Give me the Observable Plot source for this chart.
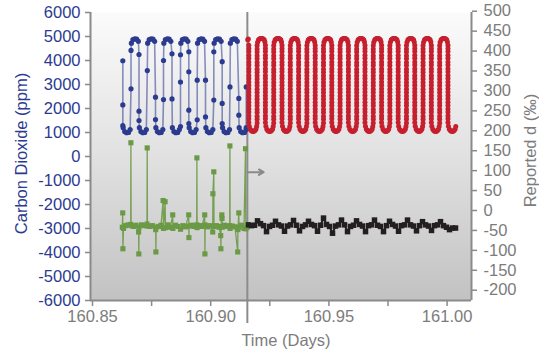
<!DOCTYPE html>
<html><head><meta charset="utf-8">
<script src="https://cdn.jsdelivr.net/npm/d3@7"></script>
<script src="https://cdn.jsdelivr.net/npm/@observablehq/plot@0.6"></script>
<style>html,body{margin:0;padding:0;background:#fff;} svg{display:block;}</style>
</head><body><div id="chart"></div>
<script>
// ---- axis ticks ----
const xTicks = [160.85, 160.90, 160.95, 161.00];
const xMinorTicks = [160.875, 160.925, 160.975];
const co2Ticks = [-6000, -5000, -4000, -3000, -2000, -1000, 0, 1000, 2000, 3000, 4000, 5000, 6000];
const deltaTicks = [-200, -150, -100, -50, 0, 50, 100, 150, 200, 250, 300, 350, 400, 450, 500];
const xDomain = [160.84915, 161.01032];
const co2Domain = [-6000, 6000];
const switchDay = 160.9155;

// ---- CO2, first period (blue): time of each vertical step and the points read on it ----
const blueEdgeDays = [160.86282, 160.86629, 160.86967, 160.87318, 160.87665, 160.88003, 160.88363, 160.88722,
  160.89074, 160.89429, 160.89780, 160.90131, 160.90486, 160.90816, 160.91189, 160.91502];
const blueRampPpm = [[3990, 2150, 1290], [2820, 4420], [4250, 1890, 1500], [3580], [2470, 1540], [2370, 4000],
  [4280, 2400], [1250, 3100, 4240], [4360, 3530, 1930, 1370], [1530, 3180], [3180, 1650], [2350, 4360],
  [3950, 2210, 1375], [2900], [2420, 1720], [1200, 2900]];
const blueTopArcPpm = [4720, 4870, 4900, 4890, 4800];
const blueBottomArcPpm = [1200, 1040, 990, 1000, 1120];
const blueArcOffsetDays = [0.00015, 0.0008, 0.0016, 0.0024, 0.0031];

// ---- CO2, second period (red) ----
const redLeadDays = [160.91566, 160.91590];
const redLeadPpm = [4860, 4900];
const redEdgeDays = [160.91612, 160.91963, 160.92314, 160.92665, 160.93016, 160.93367, 160.93718, 160.94069,
  160.94420, 160.94771, 160.95122, 160.95473, 160.95824, 160.96175, 160.96526, 160.96877, 160.97228, 160.97579,
  160.97930, 160.98281, 160.98632, 160.98983, 160.99334, 160.99685, 161.00036];
const redDownPpm = [4640, 4500, 4370, 4220, 4090, 3940, 3810, 3660, 3530, 3380, 3250, 3100, 2970, 2820, 2690,
  2540, 2410, 2260, 2130, 1980, 1850, 1700, 1570, 1420];
const redUpPpm = [1400, 1550, 1680, 1830, 1960, 2110, 2240, 2390, 2520, 2670, 2800, 2950, 3080, 3230, 3360,
  3510, 3640, 3790, 3920, 4070, 4200, 4350, 4480, 4630];
const redTopArcPpm = [4760, 4860, 4900, 4920, 4920, 4920, 4900, 4860, 4770];
const redBottomArcPpm = [1260, 1140, 1080, 1050, 1040, 1050, 1080, 1140, 1250];
const redArcOffsetDays = [0.0002, 0.0006, 0.0010, 0.0014, 0.0018, 0.0022, 0.0026, 0.0030, 0.0033];

// ---- reported delta, first period (green) ----
const greenDays = [160.86261, 160.86278, 160.86286, 160.86311, 160.86396, 160.86502, 160.86616, 160.86624,
  160.86633, 160.86734, 160.86840, 160.86950, 160.86959, 160.86967, 160.87073, 160.87179, 160.87305, 160.87314,
  160.87322, 160.87432, 160.87538, 160.87673, 160.87682, 160.87690, 160.87792, 160.87898, 160.87986, 160.88003,
  160.88071, 160.88088, 160.88194, 160.88299, 160.88393, 160.88401, 160.88511, 160.88617, 160.88723, 160.88828,
  160.88934, 160.89069, 160.89078, 160.89086, 160.89188, 160.89294, 160.89408, 160.89416, 160.89425, 160.89526,
  160.89632, 160.89746, 160.89755, 160.89763, 160.89865, 160.89970, 160.90085, 160.90093, 160.90131, 160.90140,
  160.90245, 160.90351, 160.90423, 160.90431, 160.90440, 160.90470, 160.90478, 160.90491, 160.90584, 160.90690,
  160.90804, 160.90812, 160.90821, 160.90922, 160.91028, 160.91142, 160.91151, 160.91189, 160.91197, 160.91303,
  160.91409, 160.91472, 160.91485, 160.91536];
const greenDelta = [-42, -6, -96, -45, -38, -36, -35, 170, -38, -40, -37, -54, -109, -42, -36, -38, -34, 157,
  -39, -40, -38, -48, -104, -42, -40, -37, 25, -45, 22, -43, -36, -42, -11, -45, -37, -40, -47, -38, -41, -11,
  -68, -39, -37, -40, -36, 132, -43, -38, -40, -11, -109, -36, -41, -38, -54, 42, 97, -40, -38, -42, -63, -96,
  -40, -11, -20, -42, -37, -40, -38, 162, -45, -39, -41, -104, -48, -6, -42, -37, -45, 155, -46, -42];

// ---- reported delta, second period (black) ----
const blackDays = [160.91599, 160.91726, 160.91853, 160.91980, 160.92107, 160.92234, 160.92361, 160.92488,
  160.92615, 160.92741, 160.92868, 160.92995, 160.93122, 160.93249, 160.93376, 160.93503, 160.93630, 160.93757,
  160.93884, 160.94011, 160.94137, 160.94264, 160.94391, 160.94518, 160.94645, 160.94772, 160.94899, 160.95026,
  160.95153, 160.95280, 160.95407, 160.95533, 160.95660, 160.95787, 160.95914, 160.96041, 160.96168, 160.96295,
  160.96422, 160.96549, 160.96676, 160.96803, 160.96929, 160.97056, 160.97183, 160.97310, 160.97437, 160.97564,
  160.97691, 160.97818, 160.97945, 160.98072, 160.98199, 160.98325, 160.98452, 160.98579, 160.98706, 160.98833,
  160.98960, 160.99087, 160.99214, 160.99341, 160.99468, 160.99595, 160.99721, 160.99848, 160.99975, 161.00102,
  161.00229, 161.00356];
const blackDelta = [-36, -38, -37, -26, -33, -38, -53, -40, -37, -27, -36, -39, -52, -39, -36, -25, -37, -51,
  -40, -36, -27, -35, -38, -52, -37, -19, -35, -40, -57, -39, -36, -24, -36, -53, -40, -37, -26, -35, -39, -53,
  -38, -36, -24, -37, -40, -53, -38, -27, -35, -39, -52, -38, -36, -24, -36, -39, -51, -38, -28, -36, -39, -50,
  -38, -36, -28, -38, -42, -48, -44, -44];

// right axis (per mil) expressed on the left (ppm) scale
const toPpm = d => -2250 + 16.608 * d;
const fromPpm = p => Math.round((p + 2250) / 16.608);

// ---- assemble tables ----
const blue = [];
blueEdgeDays.forEach((t, i) => {
  blueRampPpm[i].forEach(v => blue.push({t, v}));
  if (i < blueEdgeDays.length - 1) {
    const arc = i % 2 === 0 ? blueBottomArcPpm : blueTopArcPpm;
    arc.forEach((v, j) => blue.push({t: t + blueArcOffsetDays[j], v}));
  }
});
const red = redLeadDays.map((t, i) => ({t, v: redLeadPpm[i]}));
redEdgeDays.forEach((t, k) => {
  const down = k % 2 === 0;
  (down ? redDownPpm : redUpPpm).forEach(v => red.push({t, v}));
  (down ? redBottomArcPpm : redTopArcPpm).forEach((v, j) => red.push({t: t + redArcOffsetDays[j], v}));
});
const green = greenDays.map((t, i) => ({t, d: greenDelta[i]}));
const black = blackDays.map((t, i) => ({t, d: blackDelta[i]}));

const BLUE = "#2b3b8f", RED = "#c61f2d", GREEN = "#6a9a45", BLACK = "#231f20", GRAY = "#8a8a8a", TXT = "#7c7c7c";
const FS = 16.5;

const chart = Plot.plot({
  width: 539, height: 352,
  marginLeft: 90, marginRight: 68, marginTop: 12, marginBottom: 52,
  style: {fontFamily: "'Liberation Sans', Arial, sans-serif", fontSize: FS + "px", background: "white"},
  x: {domain: xDomain, label: null},
  y: {domain: co2Domain, label: null},
  marks: [
    Plot.frame({fill: "#dddddd"}),
    Plot.ruleX([switchDay], {y1: 6000, y2: -6960, stroke: "#8c8c8c", strokeWidth: 2}),
    Plot.line(blue, {x: "t", y: "v", stroke: BLUE, strokeOpacity: 0.55, strokeWidth: 1.6}),
    Plot.dot(blue, {x: "t", y: "v", r: 2.6, fill: BLUE, stroke: null}),
    Plot.line(red, {x: "t", y: "v", stroke: RED, strokeOpacity: 0.75, strokeWidth: 1.5}),
    Plot.dot(red, {x: "t", y: "v", r: 2.5, fill: RED, stroke: null}),
    Plot.line(green, {x: "t", y: d => toPpm(d.d), stroke: GREEN, strokeWidth: 1.3, strokeOpacity: 0.9}),
    Plot.dot(green, {x: "t", y: d => toPpm(d.d), symbol: "square", r: 2.9, fill: GREEN, stroke: null}),
    Plot.line(black, {x: "t", y: d => toPpm(d.d), stroke: BLACK, strokeWidth: 2}),
    Plot.dot(black, {x: "t", y: d => toPpm(d.d), symbol: "square", r: 3.1, fill: BLACK, stroke: null}),
    Plot.arrow([{a: switchDay, b: 160.9224, y: -654}], {x1: "a", x2: "b", y1: "y", y2: "y", stroke: GRAY, strokeWidth: 2, headLength: 8}),
    // frame lines
    Plot.ruleX([xDomain[0]], {stroke: GRAY, strokeWidth: 2}),
    Plot.ruleX([xDomain[1]], {stroke: GRAY, strokeWidth: 2}),
    Plot.ruleY([co2Domain[0]], {stroke: GRAY, strokeWidth: 2}),
    // left axis
    Plot.axisY(co2Ticks, {anchor: "left", tickSize: 5, tickFormat: () => "", stroke: GRAY, strokeWidth: 1.5, label: null}),
    Plot.axisY(co2Ticks, {anchor: "left", tickSize: 0, tickPadding: 10, tickFormat: d => String(d), fill: BLUE, fontSize: FS, label: null}),
    // right axis
    Plot.axisY(deltaTicks.map(toPpm), {anchor: "right", tickSize: 5, tickFormat: () => "", stroke: GRAY, strokeWidth: 1.5, label: null}),
    Plot.axisY(deltaTicks.map(toPpm), {anchor: "right", tickSize: 0, tickPadding: 12, tickFormat: p => String(fromPpm(p)), fill: TXT, fontSize: FS, label: null}),
    // bottom axis
    Plot.axisX(xTicks.concat(xMinorTicks), {anchor: "bottom", tickSize: 6, tickFormat: () => "", stroke: GRAY, strokeWidth: 1.5, label: null}),
    Plot.axisX(xTicks, {anchor: "bottom", tickSize: 0, tickPadding: 10, tickFormat: d => d.toFixed(2), fill: TXT, fontSize: FS, label: null}),
    // titles
    Plot.text(["Carbon Dioxide (ppm)"], {frameAnchor: "left", dx: -69, dy: -3, rotate: -90, fill: BLUE, fontSize: FS, textAnchor: "middle", lineAnchor: "middle"}),
    Plot.text(["Reported d (‰)"], {frameAnchor: "right", dx: 59, dy: -6, rotate: -90, fill: TXT, fontSize: FS, textAnchor: "middle", lineAnchor: "middle"}),
    Plot.text(["Time (Days)"], {frameAnchor: "bottom", dx: 5, dy: 40, fill: TXT, fontSize: FS, textAnchor: "middle", lineAnchor: "middle"})
  ]
});

// vertical background gradient for the plotting area
const ns = "http://www.w3.org/2000/svg";
const defs = document.createElementNS(ns, "defs");
defs.innerHTML = '<linearGradient id="bgGrad" x1="0" y1="0" x2="0" y2="1"><stop offset="0" stop-color="#fbfbfb"/><stop offset="0.5" stop-color="#e1e1e1"/><stop offset="1" stop-color="#c2c2c2"/></linearGradient>';
chart.insertBefore(defs, chart.firstChild);
const fr = chart.querySelector('[aria-label="frame"]');
if (fr) {
  const r = fr.tagName.toLowerCase() === "rect" ? fr : fr.querySelector("rect");
  if (r) r.setAttribute("fill", "url(#bgGrad)");
}
document.getElementById("chart").appendChild(chart);
</script></body></html>
